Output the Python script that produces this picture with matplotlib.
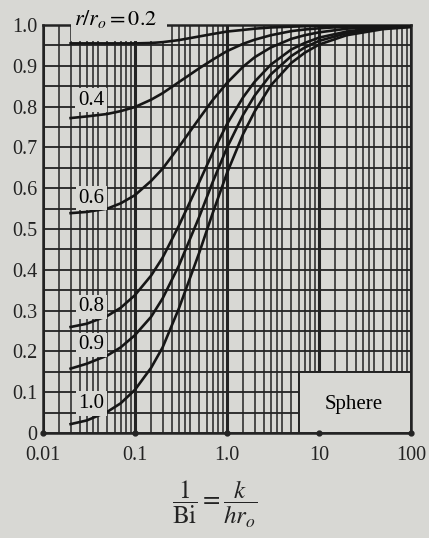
import matplotlib
matplotlib.use("Agg")
import matplotlib.pyplot as plt
import matplotlib.ticker as mticker
from matplotlib.patches import Rectangle
import numpy as np

plt.rcParams.update({
    "font.family": ["Liberation Serif", "DejaVu Serif"],
    "mathtext.fontset": "stix",
    "font.size": 14,
})

BG = "#d8d8d4"
INK = "#232323"

# ── Data ──
inv_bi = [0.02, 0.03, 0.05, 0.07, 0.1, 0.15, 0.2, 0.3, 0.5, 0.7,
          1, 1.5, 2, 3, 5, 7, 10, 20, 50, 100]
r_02 = [0.955, 0.955, 0.955, 0.955, 0.955, 0.956, 0.958, 0.963, 0.972, 0.978,
        0.984, 0.988, 0.991, 0.994, 0.996, 0.997, 0.998, 0.999, 0.9995, 0.9998]
r_04 = [0.772, 0.776, 0.782, 0.789, 0.799, 0.817, 0.833, 0.860, 0.894, 0.915,
        0.936, 0.954, 0.964, 0.975, 0.985, 0.989, 0.992, 0.996, 0.998, 0.999]
r_06 = [0.539, 0.542, 0.550, 0.563, 0.583, 0.618, 0.648, 0.701, 0.771, 0.816,
        0.858, 0.898, 0.921, 0.945, 0.966, 0.975, 0.982, 0.991, 0.996, 0.998]
r_08 = [0.260, 0.268, 0.287, 0.307, 0.338, 0.386, 0.430, 0.508, 0.615, 0.687,
        0.757, 0.823, 0.861, 0.903, 0.940, 0.956, 0.969, 0.984, 0.994, 0.997]
r_09 = [0.158, 0.170, 0.190, 0.210, 0.240, 0.285, 0.330, 0.410, 0.530, 0.615,
        0.699, 0.780, 0.827, 0.879, 0.924, 0.945, 0.961, 0.980, 0.992, 0.996]
r_10 = [0.022, 0.031, 0.052, 0.073, 0.106, 0.160, 0.210, 0.305, 0.442, 0.539,
        0.637, 0.733, 0.788, 0.852, 0.907, 0.932, 0.952, 0.975, 0.990, 0.995]

curves = [r_02, r_04, r_06, r_08, r_09, r_10]
curve_labels = ["$r/r_o = 0.2$", "0.4", "0.6", "0.8", "0.9", "1.0"]
label_y = [1.014, 0.816, 0.576, 0.309, 0.216, 0.073]

x_ticks = [0.01, 0.1, 1, 10, 100]
x_ticklabels = ["0.01", "0.1", "1.0", "10", "100"]
y_ticks = [0, 0.1, 0.2, 0.3, 0.4, 0.5, 0.6, 0.7, 0.8, 0.9, 1.0]
y_ticklabels = ["0", "0.1", "0.2", "0.3", "0.4", "0.5", "0.6", "0.7", "0.8", "0.9", "1.0"]

fig = plt.figure(figsize=(4.29, 5.38), dpi=100)
fig.set_facecolor(BG)
ax = fig.add_axes([0.100, 0.195, 0.858, 0.7585])
ax.set_facecolor(BG)

ax.set_xscale("log")
ax.set_xlim(0.01, 100)
ax.set_ylim(0, 1.0)

# log paper grid
minor_steps = [1.5, 2, 2.5, 3, 3.5, 4, 5, 6, 7, 8, 9]
minor_pos = [d * s for d in [0.01, 0.1, 1, 10] for s in minor_steps]
ax.set_xticks(x_ticks)
ax.set_xticklabels(x_ticklabels)
ax.xaxis.set_minor_locator(mticker.FixedLocator(minor_pos))
ax.xaxis.set_minor_formatter(mticker.NullFormatter())
ax.set_yticks(y_ticks)
ax.set_yticklabels(y_ticklabels)
ax.yaxis.set_minor_locator(mticker.MultipleLocator(0.05))
ax.tick_params(which="both", length=0, labelsize=14.5, colors=INK)
ax.tick_params(axis="y", pad=4)
ax.tick_params(axis="x", pad=9)

ax.grid(True, axis="x", which="major", color=INK, lw=2.2)
ax.grid(True, axis="x", which="minor", color=INK, lw=1.1)
ax.grid(True, axis="y", which="both", color=INK, lw=1.3)
ax.set_axisbelow(True)

for sp in ax.spines.values():
    sp.set_color(INK)
    sp.set_linewidth(1.8)

for ys in curves:
    ax.plot(inv_bi, ys, color="#161616", lw=1.9, zorder=3)

# label masks and labels
ax.add_patch(Rectangle((0.02, 0.962), 0.205, 0.07, facecolor=BG, edgecolor="none",
                       zorder=2.8, clip_on=False))
ax.text(0.062, label_y[0], curve_labels[0], fontsize=16, ha="center", va="center",
        zorder=4, clip_on=False)
for lab, ly in zip(curve_labels[1:], label_y[1:]):
    ax.text(0.0335, ly, lab, fontsize=15, ha="center", va="center", zorder=4,
            bbox=dict(facecolor=BG, edgecolor="none", pad=2.0))

# "Sphere" box
ax.add_patch(Rectangle((6, 0), 94, 0.15, facecolor=BG, edgecolor=INK, lw=1.4, zorder=2.6))
ax.text(24, 0.07, "Sphere", fontsize=15, ha="center", va="center", zorder=4)

# dots on the x axis
ax.plot(x_ticks, [0] * len(x_ticks), "o", color=INK, ms=3.5, clip_on=False, zorder=5)

fig.text(0.50, 0.062, r"$\dfrac{1}{\mathrm{Bi}} = \dfrac{k}{h r_o}$", fontsize=18,
         ha="center", va="center", color=INK)

fig.savefig("out.png", dpi=100, facecolor=BG)
